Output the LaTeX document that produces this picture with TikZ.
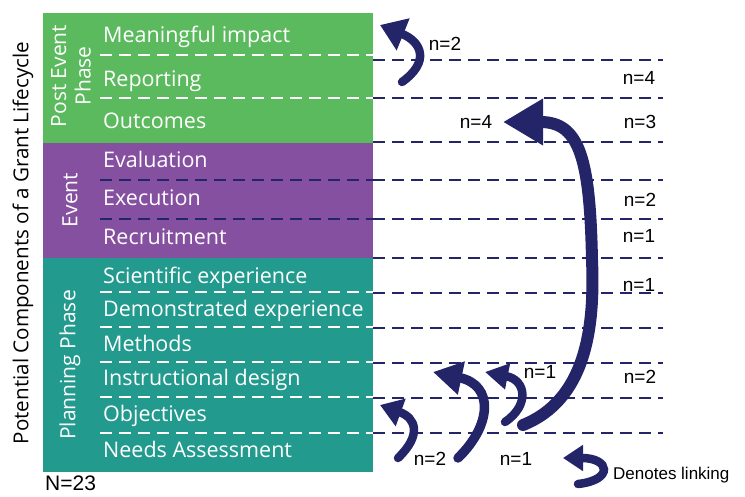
\documentclass[tikz,border=0pt]{standalone}
\usepackage{fontspec}
\setmainfont{Open Sans}
\newfontfamily\countfont{Liberation Sans}
\usetikzlibrary{positioning, arrows.meta}

\definecolor{postgreen}{RGB}{92,186,94}
\definecolor{eventpurple}{RGB}{134,80,160}
\definecolor{planteal}{RGB}{34,154,142}
\definecolor{linknavy}{RGB}{36,37,104}

\begin{document}
\begin{tikzpicture}[
    x=1pt, y=-1pt,
    phasebox/.style={minimum width=330pt, inner sep=0pt, outer sep=0pt},
    phaselabel/.style={rotate=90, text=white, align=center, inner sep=0pt, font=\fontsize{21}{24.5}\selectfont},
    item/.style={anchor=base west, inner sep=0pt, text=white, font=\fontsize{21.5}{24}\selectfont},
    count/.style={anchor=base, inner sep=0pt, font=\countfont\fontsize{19}{22}\selectfont},
    rowsep/.style={line width=2.6pt, dash pattern=on 12pt off 7pt},
    link/.style={draw=linknavy, line cap=round, line width=8.5pt},
]

% ---- Bounding box ----
\useasboundingbox (0,0) rectangle (745,496);

% ---- Phase blocks ----
\node[phasebox, fill=postgreen, minimum height=130pt, anchor=north west] (post) at (43,13) {};
\node[phasebox, fill=eventpurple, minimum height=115pt, below=0pt of post] (event) {};
\node[phasebox, fill=planteal, minimum height=214pt, below=0pt of event] (plan) {};

\node[phaselabel] (postlab) at (71,76) {Post Event\\Phase};
\node[phaselabel] (eventlab) at (70,200) {Event};
\node[phaselabel] (planlab) at (70,365) {Planning Phase};

\node[rotate=90, inner sep=0pt, font=\fontsize{20.6}{24}\selectfont] (lifecycle) at (23,243) {Potential Components of a Grant Lifecycle};

% ---- Row separators ----
\foreach \y in {55,98,292,327,362,397,433}
  \draw[rowsep, white] (100,\y) -- (373,\y);
\foreach \y in {180,219}
  \draw[rowsep, linknavy] (100,\y) -- (373,\y);
\foreach \y in {60,98,142,180,219,258,293,328,363,398,433}
  \draw[rowsep, linknavy] (373,\y) -- (663,\y);

% ---- Components ----
\node[item] (impact) at (103,42) {Meaningful impact};
\node[item] (reporting) at (103,86) {Reporting};
\node[item] (outcomes) at (103,128) {Outcomes};
\node[item] (evaluation) at (103,167) {Evaluation};
\node[item] (execution) at (103,205) {Execution};
\node[item] (recruitment) at (103,244) {Recruitment};
\node[item] (scientific) at (103,283) {Scientific experience};
\node[item] (demonstrated) at (103,316) {Demonstrated experience};
\node[item] (methods) at (103,351) {Methods};
\node[item] (design) at (103,385) {Instructional design};
\node[item] (objectives) at (103,421) {Objectives};
\node[item] (needs) at (103,457) {Needs Assessment};

% ---- Counts ----
\node[count] (nReporting) at (639,84) {n=4};
\node[count] (nOutcomes) at (640,128) {n=3};
\node[count] (nExecution) at (640,206) {n=2};
\node[count] (nRecruitment) at (639,242) {n=1};
\node[count] (nScientific) at (639,291) {n=1};
\node[count] (nDesign) at (640,383) {n=2};

\node[count, font=\countfont\fontsize{21}{24}\selectfont, anchor=base west] (total) at (45,490.5) {N=23};

% ---- Linking arrows ----
\coordinate (reportFoot) at (402,82);
\coordinate (impactTip) at (380,25);
\draw[link, -{Triangle[length=25pt, width=33pt]}] (reportFoot) .. controls (430,62) and (422,42) .. (impactTip);
\node[count] (nImpact) at (445,50) {n=2};

\coordinate (needsFootA) at (523,425);
\coordinate (bend) at (592,260);
\coordinate (outcomesTip) at (503,122);
\draw[link, line width=12pt, -{Triangle[length=40pt, width=44pt]}] (needsFootA) .. controls (585,400) and (595,330) .. (bend) .. controls (590,160) and (580,122) .. (outcomesTip);
\node[count] (nLinkOutcomes) at (476,128) {n=4};

\coordinate (needsFootB) at (505,422);
\coordinate (designTipA) at (485,372);
\draw[link, -{Triangle[length=23pt, width=25pt]}] (needsFootB) .. controls (530,405) and (526,380) .. (designTipA);
\node[count] (nLinkDesignA) at (540,378) {n=1};

\coordinate (needsFootC) at (458,458);
\coordinate (designTipB) at (433,372);
\draw[link, line width=9.5pt, -{Triangle[length=29pt, width=32pt]}] (needsFootC) .. controls (492,425) and (494,385) .. (designTipB);
\node[count] (nLinkDesignB) at (516,465) {n=1};

\coordinate (needsFootD) at (398,458);
\coordinate (objectivesTip) at (380,405);
\draw[link, -{Triangle[length=22pt, width=28pt]}] (needsFootD) .. controls (422,435) and (416,418) .. (objectivesTip);
\node[count] (nLinkObjectives) at (430,465) {n=2};

% ---- Legend ----
\coordinate (keyFoot) at (578,484);
\coordinate (keyTip) at (563,458);
\draw[link, -{Triangle[length=20pt, width=25pt]}] (keyFoot) .. controls (614,480) and (610,458) .. (keyTip);
\node[count, anchor=base west, font=\countfont\fontsize{17}{20}\selectfont] (keyText) at (613,479) {Denotes linking};

\end{tikzpicture}
\end{document}
